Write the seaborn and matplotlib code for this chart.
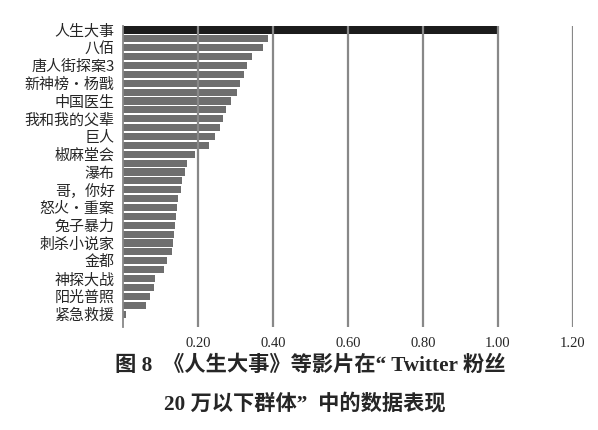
import numpy as np
import pandas as pd
import matplotlib
matplotlib.use('Agg')
import matplotlib.pyplot as plt
import seaborn as sns

sns.set_theme(style='white')
plt.rcParams['font.family'] = ['Noto Sans CJK SC', 'DejaVu Sans']

# 有标签的影片（每隔一根柱子标注一次）
films = ['人生大事', '八佰', '唐人街探案3', '新神榜·杨戬', '中国医生', '我和我的父辈',
         '巨人', '椒麻堂会', '瀑布', '哥，你好', '怒火·重案', '兔子暴力',
         '刺杀小说家', '金都', '神探大战', '阳光普照', '紧急救援']

# 33 根柱子的数值
scores = [1.00, 0.387, 0.374, 0.343, 0.331, 0.322, 0.312, 0.304, 0.287, 0.274,
          0.266, 0.258, 0.246, 0.229, 0.193, 0.170, 0.165, 0.158, 0.155, 0.147,
          0.145, 0.140, 0.139, 0.136, 0.134, 0.130, 0.117, 0.108, 0.086, 0.082,
          0.071, 0.061, 0.009]

x_ticks = [0.2, 0.4, 0.6, 0.8, 1.0, 1.2]

caption1 = '图 8  《人生大事》等影片在“ Twitter 粉丝'
caption2 = '20 万以下群体”  中的数据表现'

rank = [str(i) for i in range(1, len(scores) + 1)]
tick_text = [films[i // 2] if i % 2 == 0 else '' for i in range(len(scores))]
df = pd.DataFrame({'rank': rank, 'score': scores})
colors = ['#1c1c1c'] + ['#6e6e6e'] * (len(scores) - 1)

fig = plt.figure(figsize=(5.98, 4.30), dpi=100)
ax = fig.add_axes([0.2057, 0.2395, 0.7525, 0.700])

sns.barplot(data=df, x='score', y='rank', hue='rank', palette=colors, legend=False,
            orient='h', width=0.8, linewidth=0, saturation=1, ax=ax)

ax.set_xlim(0, 1.2)
ax.set_ylim(len(scores) - 1 + 1.46, -0.45)
ax.set_xticks(x_ticks)
ax.set_xticklabels([f'{t:.2f}' for t in x_ticks], family='Liberation Serif', fontsize=10.5)
ax.set_yticks(range(len(scores)))
ax.set_yticklabels(tick_text, fontsize=10.8)
ax.tick_params(axis='both', length=0)
ax.tick_params(axis='x', pad=7)
ax.tick_params(axis='y', pad=6)
ax.set_xlabel('')
ax.set_ylabel('')

ax.xaxis.grid(True, color='#888888', linewidth=1.6)
ax.set_axisbelow(False)
for side in ['top', 'right', 'bottom']:
    ax.spines[side].set_visible(False)
ax.spines['left'].set_color('#888888')
ax.spines['left'].set_linewidth(1.3)

fig.text(0.518, 1 - 366 / 430, caption1, ha='center', va='center', fontsize=15.3,
         fontweight='bold', family=['Liberation Serif', 'Noto Sans CJK SC'])
fig.text(0.510, 1 - 404 / 430, caption2, ha='center', va='center', fontsize=15.3,
         fontweight='bold', family=['Liberation Serif', 'Noto Sans CJK SC'])

plt.savefig('out.png', dpi=100)
